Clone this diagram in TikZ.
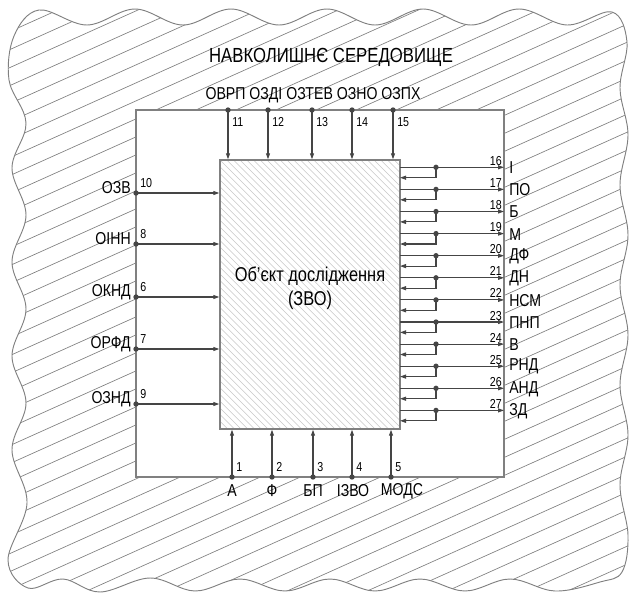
\documentclass[tikz,border=0pt]{standalone}
\usepackage{fontspec}
\setmainfont{Liberation Sans}[FakeStretch=0.82]
\usetikzlibrary{arrows.meta}
\definecolor{linec}{HTML}{454545}
\definecolor{edgec}{HTML}{808080}
\definecolor{hatchc}{HTML}{808080}
\definecolor{ihatch}{HTML}{C8C8C8}
\begin{document}
\begin{tikzpicture}[x=0.75pt,y=-0.75pt,
  conn/.style={draw=linec,line width=0.8pt},
  arr/.style={conn,-{Triangle[length=4.5pt,width=3pt]}},
  num/.style={font=\fontsize{9.75}{11}\selectfont,inner sep=0pt,text=black},
  lab/.style={font=\fontsize{12.9}{14}\selectfont,inner sep=0pt,text=black},
  blob/.style={smooth cycle,tension=0.6}]
\useasboundingbox (0,0) rectangle (632,593);
% hatched surroundings
\begin{scope}
\path[clip] plot[blob] coordinates {
 (39,10) (87,25) (135,9) (183,25) (231,9) (279,25) (327,9) (375,25) (423,9) (471,25) (519,9) (567,25) (612,12)
 (627,42) (620,88) (628,135) (620,185) (628,235) (620,285) (628,335) (620,385) (628,435) (620,485) (628,535) (622,572)
 (600,582) (555,591) (510,579) (465,591) (420,579) (375,591) (330,579) (285,591) (240,579) (195,591) (150,578) (100,592) (63,579) (28,588)
 (8,560) (27,503) (12,450) (26,403) (12,356) (26,309) (12,262) (26,215) (12,168) (26,123) (9,80) (14,36)};
\foreach \c in {0,18,...,900} \draw[hatchc,line width=0.5pt] (0,\c) -- (632,\c-284);
\end{scope}
\path[draw=edgec,line width=0.7pt] plot[blob] coordinates {
 (39,10) (87,25) (135,9) (183,25) (231,9) (279,25) (327,9) (375,25) (423,9) (471,25) (519,9) (567,25) (612,12)
 (627,42) (620,88) (628,135) (620,185) (628,235) (620,285) (628,335) (620,385) (628,435) (620,485) (628,535) (622,572)
 (600,582) (555,591) (510,579) (465,591) (420,579) (375,591) (330,579) (285,591) (240,579) (195,591) (150,578) (100,592) (63,579) (28,588)
 (8,560) (27,503) (12,450) (26,403) (12,356) (26,309) (12,262) (26,215) (12,168) (26,123) (9,80) (14,36)};
% system boundary
\node[draw=edgec,fill=white,line width=1pt,minimum width=276pt,minimum height=275.25pt,inner sep=0pt] (env) at (320,293.5) {};
% object hatch
\begin{scope}
\clip (220,160) rectangle (400,429);
\foreach \i in {-41,...,28} \draw[ihatch,line width=0.4pt] ({220+\i*6.7},160) -- ({220+\i*6.7+269},429);
\end{scope}
\node[draw=edgec,line width=1.1pt,minimum width=135pt,minimum height=201.75pt,inner sep=0pt] (obj) at (310,294.5) {};
\node[font=\fontsize{15}{18}\selectfont,align=center,inner sep=0pt] (objlab) at (310,288) {Об’єкт дослідження\\(ЗВО)};
% titles
\node[font=\fontsize{15.3}{17}\selectfont,inner sep=0pt] (title) at (331,57) {НАВКОЛИШНЄ СЕРЕДОВИЩЕ};
\node[lab] (toplab) at (313,95) {ОВРП ОЗДІ ОЗТЕВ ОЗНО ОЗПХ};
% top inputs
\foreach \xx/\n in {228/11,268/12,312/13,352/14,393/15}{
  \coordinate (t\n) at (\xx,110);
  \draw[arr] (t\n) -- (t\n |- obj.north);
  \fill[linec] (t\n) circle (2pt);
  \node[num,anchor=west] (tn\n) at (\xx+4,122) {\n};
}
% left inputs
\foreach \yy/\n/\t in {193/10/ОЗВ,244/8/ОІНН,297/6/ОКНД,349/7/ОРФД,404/9/ОЗНД}{
  \coordinate (l\n) at (136,\yy);
  \draw[arr] (l\n) -- (l\n -| obj.west);
  \fill[linec] (l\n) circle (2pt);
  \node[num,anchor=base west] (ln\n) at (140,\yy-5.3) {\n};
  \node[lab,anchor=east] (lt\n) at (131,\yy-5) {\t};
}
% bottom inputs
\foreach \xx/\n/\t/\lx in {232/1/А/232,272/2/Ф/272,313/3/БП/313,352/4/ІЗВО/353,391/5/МОДС/402}{
  \coordinate (b\n) at (\xx,477);
  \draw[arr] (b\n) -- (b\n |- obj.south);
  \fill[linec] (b\n) circle (2pt);
  \node[num,anchor=west] (bn\n) at (\xx+4,467) {\n};
  \node[lab] (bt\n) at (\lx,491) {\t};
}
% right outputs with feedback
\foreach \k/\n/\t in {0/16/І,1/17/ПО,2/18/Б,3/19/М,4/20/ДФ,5/21/ДН,6/22/НСМ,7/23/ПНП,8/24/В,9/25/РНД,10/26/АНД,11/27/ЗД}{
  \pgfmathsetmacro\yy{167.3+22.1*\k}
  \coordinate (rs\n) at (400,\yy);
  \coordinate (rd\n) at (436,\yy);
  \coordinate (re\n) at (504,\yy);
  \coordinate (rf\n) at (436,\yy+10.4);
  \coordinate (rg\n) at (400,\yy+10.4);
  \draw[arr] (rs\n) -- (re\n);
  \draw[arr] (rd\n) -- (rf\n) -- (rg\n);
  \fill[linec] (rd\n) circle (2pt);
  \node[num,anchor=base east] (rn\n) at (502,\yy-2) {\n};
  \node[lab,anchor=west] (rt\n) at (509,\yy+0.5) {\t};
}
\end{tikzpicture}
\end{document}
